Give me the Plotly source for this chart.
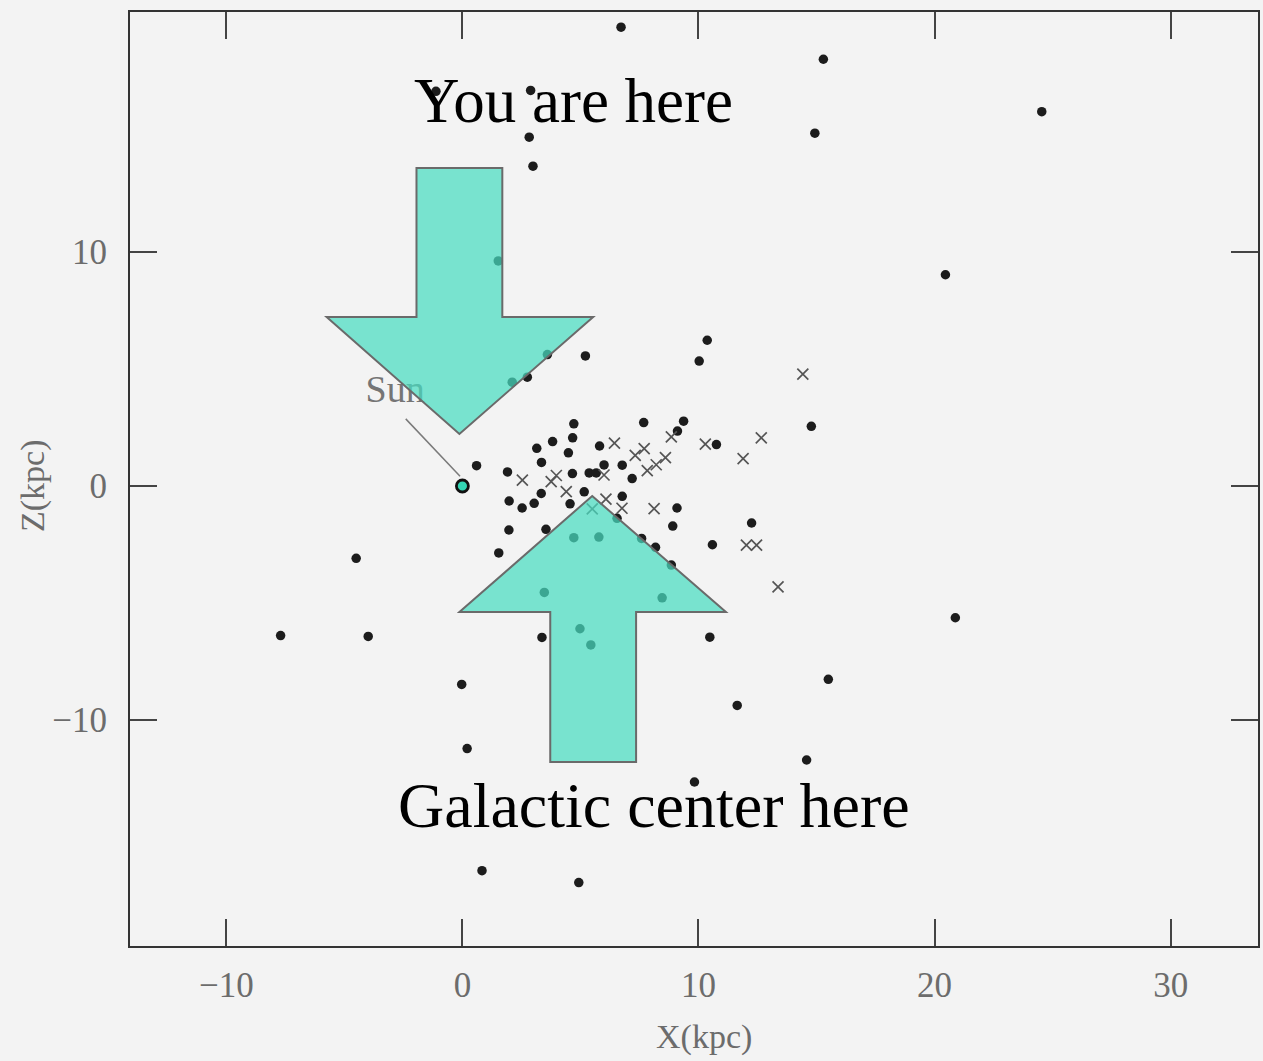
import plotly.graph_objects as go

# Globular clusters (filled dots), X and Z in kpc
dot_x = [6.72, 15.29, 24.54, 14.93, -1.12, 2.89, 2.83, 2.99, 1.52, 20.46,
         10.37, 10.03, 5.21, 3.6, 2.75, 2.11, 14.78, -4.5, -7.7, -3.99,
         -0.03, 0.2, 0.83, 4.93, 9.83, 14.58, 15.5, 11.64, 10.48, 20.88,
         3.37, 4.98, 5.44, 3.47, 8.46, 4.72, 5.78, 1.54, 4.72, 4.67,
         3.82, 3.15, 4.49, 5.81, 7.68, 3.35, 1.91, 4.66, 5.37, 5.67,
         6.0, 6.77, 7.19, 3.34, 5.16, 6.77, 1.98, 2.53, 3.04, 4.56,
         6.55, 1.97, 3.54, 0.6, 9.37, 9.11, 10.76, 9.09, 8.91, 12.25,
         7.59, 8.18, 10.59, 8.85]
dot_y = [19.61, 18.24, 16.0, 15.08, 16.87, 16.91, 14.91, 13.67, 9.62, 9.03,
         6.23, 5.34, 5.56, 5.62, 4.65, 4.44, 2.55, -3.09, -6.39, -6.43,
         -8.48, -11.22, -16.44, -16.95, -12.65, -11.71, -8.26, -9.38, -6.46, -5.63,
         -6.47, -6.1, -6.79, -4.55, -4.78, -2.21, -2.18, -2.86, 2.66, 2.06,
         1.9, 1.61, 1.42, 1.71, 2.71, 1.01, 0.6, 0.53, 0.56, 0.56,
         0.9, 0.89, 0.32, -0.32, -0.25, -0.44, -0.64, -0.94, -0.74, -0.76,
         -1.38, -1.88, -1.85, 0.87, 2.77, 2.35, 1.77, -0.94, -1.71, -1.58,
         -2.24, -2.62, -2.51, -3.38]

# Clusters plotted as crosses
cross_x = [14.42, 12.66, 11.89, 6.44, 7.32, 7.7, 8.85, 10.29, 8.6, 8.21,
           7.83, 2.54, 3.98, 3.76, 6.0, 4.4, 6.08, 6.76, 8.12, 5.5,
           12.03, 12.46, 13.37]
cross_y = [4.78, 2.06, 1.17, 1.83, 1.31, 1.6, 2.1, 1.79, 1.21, 0.91,
           0.66, 0.25, 0.45, 0.19, 0.47, -0.24, -0.56, -0.95, -0.97, -0.98,
           -2.53, -2.53, -4.31]

sun_x = [0.0]
sun_y = [0.0]

x_ticks = [-10, 0, 10, 20, 30]
y_ticks = [-10, 0, 10]

BG = "#f3f3f3"
SERIF = "Liberation Serif, Times New Roman, serif"
GRAY = "#6c6c6c"

fig = go.Figure()

fig.add_trace(go.Scatter(
    x=dot_x, y=dot_y, mode="markers",
    marker=dict(size=9.5, color="#1c1c1c", line=dict(width=0)),
    showlegend=False, hoverinfo="skip"))

fig.add_trace(go.Scatter(
    x=cross_x, y=cross_y, mode="markers",
    marker=dict(symbol="x-thin-open", size=11, color="#555555",
                line=dict(width=1.7, color="#555555")),
    showlegend=False, hoverinfo="skip"))

# leader line for Sun label
fig.add_trace(go.Scatter(
    x=[-2.4, -0.1], y=[2.87, 0.42], mode="lines",
    line=dict(color="#7a7a7a", width=1.5),
    showlegend=False, hoverinfo="skip"))

fig.add_trace(go.Scatter(
    x=[-2.85], y=[3.98], mode="text", text=["Sun"],
    textfont=dict(family=SERIF, size=38, color="#757575"),
    showlegend=False, hoverinfo="skip"))

fig.add_trace(go.Scatter(
    x=sun_x, y=sun_y, mode="markers",
    marker=dict(size=12, color="#33d6b4", line=dict(width=2.8, color="#111111")),
    showlegend=False, hoverinfo="skip"))

arrow_fill = "rgba(72,220,192,0.72)"
arrow_line = dict(color="#6a6a6a", width=2)

down_arrow = ("M -1.945 13.59 L 1.691 13.59 L 1.691 7.222 L 5.539 7.222 "
              "L -0.127 2.222 L -5.751 7.222 L -1.945 7.222 Z")
up_arrow = ("M 5.497 -0.427 L 11.163 -5.385 L 7.357 -5.385 L 7.357 -11.795 "
            "L 3.721 -11.795 L 3.721 -5.385 L -0.127 -5.385 Z")

for p in (down_arrow, up_arrow):
    fig.add_shape(type="path", path=p, xref="x", yref="y",
                  fillcolor=arrow_fill, line=arrow_line, layer="above")

fig.add_annotation(text="You are here", xref="paper", yref="paper",
                   x=0.3935, y=0.905, xanchor="center", yanchor="middle",
                   showarrow=False,
                   font=dict(family=SERIF, size=63, color="#000000"))
fig.add_annotation(text="Galactic center here", xref="paper", yref="paper",
                   x=0.4646, y=0.150, xanchor="center", yanchor="middle",
                   showarrow=False,
                   font=dict(family=SERIF, size=64, color="#000000"))

fig.add_annotation(text="X(kpc)", xref="paper", yref="paper",
                   x=0.509, y=-0.0974, xanchor="center", yanchor="middle",
                   showarrow=False,
                   font=dict(family=SERIF, size=34, color=GRAY))
fig.add_annotation(text="Z(kpc)", xref="paper", yref="paper",
                   x=-0.086, y=0.4936, xanchor="center", yanchor="middle",
                   textangle=-90, showarrow=False,
                   font=dict(family=SERIF, size=34, color=GRAY))

axis_common = dict(
    showline=True, linecolor="#333333", linewidth=2,
    mirror="ticks", ticks="inside", ticklen=27, tickwidth=1.6,
    tickcolor="#444444", showgrid=False, zeroline=False,
    tickfont=dict(family=SERIF, size=35, color=GRAY),
)

fig.update_xaxes(range=[-14.08, 33.7], tickvals=x_ticks,
                 ticklabelstandoff=7, **axis_common)
fig.update_yaxes(range=[-19.66, 20.26], tickvals=y_ticks,
                 ticklabelstandoff=14, **axis_common)

fig.update_layout(
    width=1263, height=1061,
    margin=dict(l=130, r=3, t=12, b=115),
    paper_bgcolor=BG, plot_bgcolor=BG,
    showlegend=False,
)

fig.write_html("out.html")
